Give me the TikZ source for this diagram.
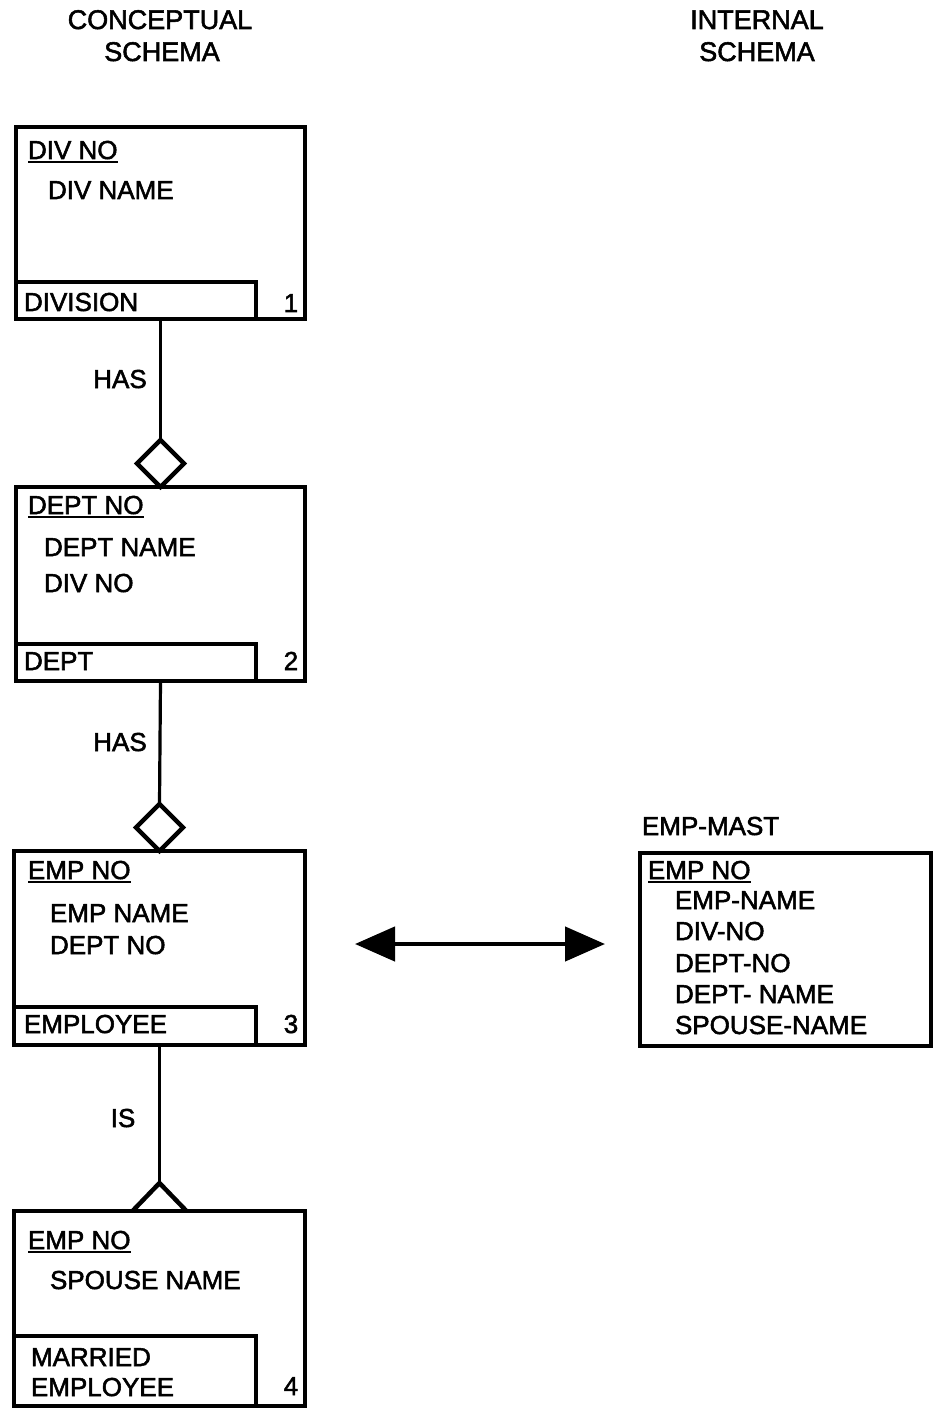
\documentclass[tikz,border=0pt]{standalone}
\usepackage{fontspec}
\setmainfont{Liberation Sans}[UprightFeatures={FakeBold=2}]
\usetikzlibrary{shapes.geometric,arrows.meta}

\tikzset{
  txt/.style={inner sep=0pt, outer sep=0pt, anchor=base west, font=\fontsize{26}{30}\selectfont},
  ctxt/.style={txt, anchor=base},
  head/.style={ctxt, font=\fontsize{27}{32}\selectfont},
  entbox/.style={draw, line width=3.2pt, inner sep=0pt, outer sep=0pt, anchor=north west},
  labbox/.style={draw, line width=3.2pt, inner sep=0pt, outer sep=0pt, anchor=south west, minimum width=240pt},
  keyline/.style={line width=2.2pt},
  conn/.style={line width=3.2pt},
  rel/.style={draw, diamond, line width=4.5pt, inner sep=0pt, outer sep=0pt, minimum width=47pt, minimum height=47pt, anchor=south},
  isa/.style={line width=4.5pt, line join=miter},
  maparrow/.style={line width=4.5pt, {Triangle[length=40pt,width=34pt]}-{Triangle[length=40pt,width=34pt]}},
}

\newcommand{\keyfield}[3]{%
  \node[txt] (#1) at (#2) {#3};
  \draw[keyline] ([yshift=-3pt]#1.base west) -- ([yshift=-3pt]#1.base east);
}

\begin{document}
\begin{tikzpicture}[x=1pt, y=-1pt]
\useasboundingbox (0,0) rectangle (936,1412);

% column headings
\node[head] (hc1) at (160,29) {CONCEPTUAL};
\node[head] (hc2) at (162,61) {SCHEMA};
\node[head] (hi1) at (757,29) {INTERNAL};
\node[head] (hi2) at (757,61) {SCHEMA};

% entity 1: DIVISION
\node[entbox, minimum width=289pt, minimum height=192pt] (e1) at (16,127) {};
\node[labbox, minimum height=37pt] (l1) at (e1.south west) {};
\keyfield{k1}{28,159}{DIV NO}
\node[txt] (a1) at (48,199) {DIV NAME};
\node[txt] (n1) at (24,311) {DIVISION};
\node[ctxt] (i1) at (291,312) {1};

% entity 2: DEPT
\node[entbox, minimum width=289pt, minimum height=194pt] (e2) at (16,487) {};
\node[labbox, minimum height=37pt] (l2) at (e2.south west) {};
\keyfield{k2}{28,514}{DEPT NO}
\node[txt] (a2) at (44,556) {DEPT NAME};
\node[txt] (b2) at (44,592) {DIV NO};
\node[txt] (n2) at (24,670) {DEPT};
\node[ctxt] (i2) at (291,670) {2};

% entity 3: EMPLOYEE
\node[entbox, minimum width=291pt, minimum height=194pt] (e3) at (14,851) {};
\node[labbox, minimum width=242pt, minimum height=38pt] (l3) at (e3.south west) {};
\keyfield{k3}{28,879}{EMP NO}
\node[txt] (a3) at (50,922) {EMP NAME};
\node[txt] (b3) at (50,954) {DEPT NO};
\node[txt] (n3) at (24,1033) {EMPLOYEE};
\node[ctxt] (i3) at (291,1033) {3};

% entity 4: MARRIED EMPLOYEE
\node[entbox, minimum width=291pt, minimum height=195pt] (e4) at (14,1211) {};
\node[labbox, minimum width=242pt, minimum height=70pt] (l4) at (e4.south west) {};
\keyfield{k4}{28,1249}{EMP NO}
\node[txt] (a4) at (50,1289) {SPOUSE NAME};
\node[txt] (n4a) at (31,1366) {MARRIED};
\node[txt] (n4b) at (31,1396) {EMPLOYEE};
\node[ctxt] (i4) at (291,1395) {4};

% relationships
\node[rel] (d1) at (e2.north) {};
\draw[conn] (e1.south) -- (d1.north);
\node[ctxt] (r1) at (120,388) {HAS};

\node[rel] (d2) at (e3.north) {};
\draw[conn] (e2.south) -- (d2.north);
\node[ctxt] (r2) at (120,751) {HAS};

\coordinate (t4) at ([yshift=28pt]e4.north);
\draw[conn] (e3.south) -- (t4);
\draw[isa] ([xshift=-27pt]e4.north) -- (t4) -- ([xshift=27pt]e4.north);
\node[ctxt] (r3) at (123,1127) {IS};

% internal record
\node[txt] (m0) at (642,835) {EMP-MAST};
\node[entbox, minimum width=291pt, minimum height=193pt] (m) at (640,853) {};
\keyfield{mk}{648,879}{EMP NO}
\node[txt] (m1) at (675,909) {EMP-NAME};
\node[txt] (m2) at (675,940) {DIV-NO};
\node[txt] (m3) at (675,972) {DEPT-NO};
\node[txt] (m4) at (675,1003) {DEPT- NAME};
\node[txt] (m5) at (675,1034) {SPOUSE-NAME};

% mapping between the schemas
\draw[maparrow, shorten <=50pt, shorten >=35pt] ([yshift=4pt]e3.east) -- ([yshift=4pt]e3.east -| m.west);
\end{tikzpicture}
\end{document}
